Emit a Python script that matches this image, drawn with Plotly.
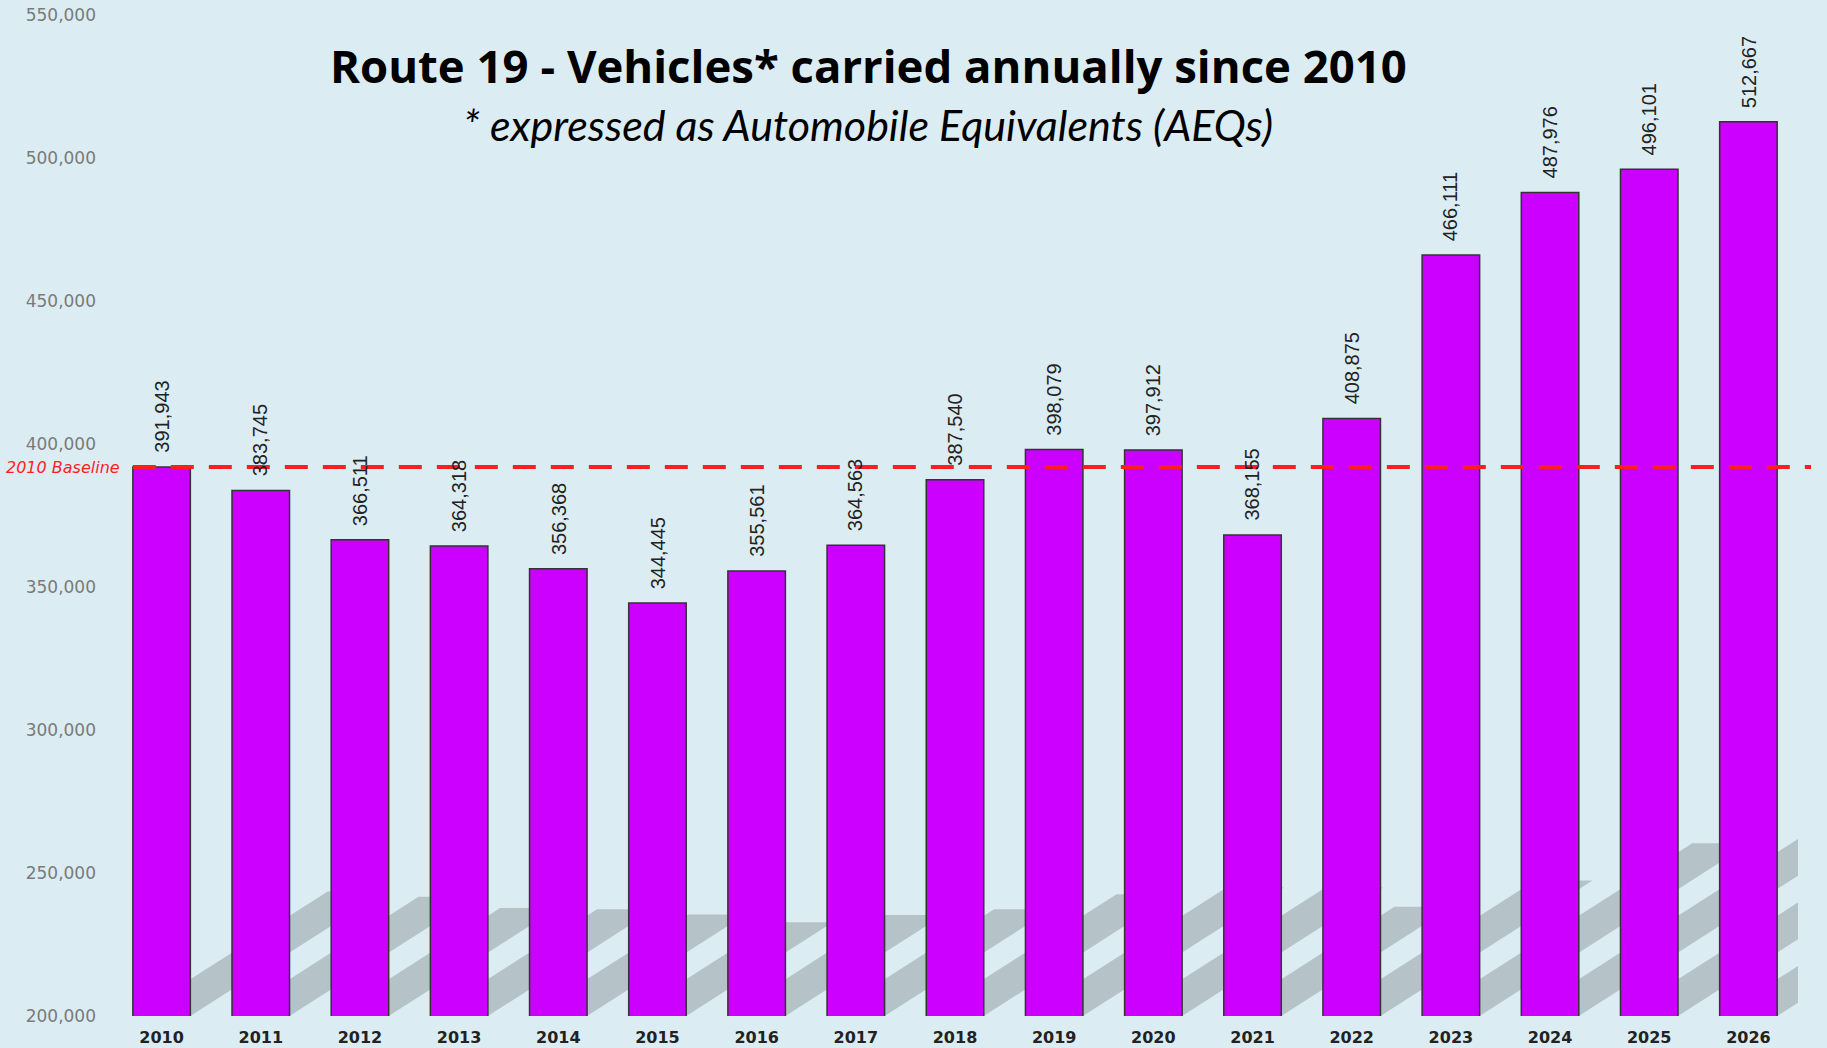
import plotly.graph_objects as go

# ---------------- data ----------------
years = ["2010", "2011", "2012", "2013", "2014", "2015", "2016", "2017", "2018",
         "2019", "2020", "2021", "2022", "2023", "2024", "2025", "2026"]
vehicles = [391943, 383745, 366511, 364318, 356368, 344445, 355561, 364563, 387540,
            398079, 397912, 368155, 408875, 466111, 487976, 496101, 512667]
y_tick_values = [200000, 250000, 300000, 350000, 400000, 450000, 500000, 550000]
y_tick_labels = ["200,000", "250,000", "300,000", "350,000", "400,000", "450,000", "500,000", "550,000"]
baseline_value = vehicles[0]
baseline_label = "2010 Baseline"
title_text = "Route 19 - Vehicles* carried annually since 2010"
subtitle_text = "* expressed as Automobile Equivalents (AEQs)"

# ---------------- layout constants ----------------
W, H = 1827, 1048
ML, MR, MT, MB = 112.4, 29, 14.5, 32
plot_w = W - ML - MR
plot_h = H - MT - MB
y_min, y_max = 200000, 550000
n = len(years)
bar_frac = 0.58
hw = bar_frac / 2
BG = "#DBEDF3"
BAR = "#CC00FF"

xs = list(range(n))

fig = go.Figure()
fig.add_trace(go.Bar(
    x=xs, y=vehicles,
    marker=dict(color=BAR, line=dict(color="#333333", width=1.5)),
    width=bar_frac, hoverinfo="x+y", showlegend=False,
))

# decorative cast shadows behind the bars
px_per_cat = plot_w / n
data_per_px = (y_max - y_min) / plot_h
shadow_frac = 0.227
slope = 0.64
shapes = []
for i, v in enumerate(vehicles):
    h_px = (v - y_min) / data_per_px
    dy_px = shadow_frac * h_px
    dx_c = (dy_px / slope) / px_per_cat
    dy_d = dy_px * data_per_px
    path = (f"M {i-hw},{y_min} L {i+hw},{y_min} L {i+hw+dx_c},{y_min+dy_d} "
            f"L {i-hw+dx_c},{y_min+dy_d} Z")
    shapes.append(dict(type="path", path=path, xref="x", yref="y", layer="below",
                       fillcolor="#B5C3C8", line=dict(width=0)))

# baseline dashed line
x0_paper = (0 - hw + 0.5) / n
x1_paper = 1 + 13 / plot_w
shapes.append(dict(type="line", xref="paper", yref="y", x0=x0_paper, x1=x1_paper,
                   y0=baseline_value, y1=baseline_value, layer="above",
                   line=dict(color="#FF1E1E", width=4, dash="23px,15px")))

annotations = []
for i, v in enumerate(vehicles):
    annotations.append(dict(x=i, y=v, xref="x", yref="y", text=f"{v:,}",
                            showarrow=False, textangle=-90, yanchor="bottom",
                            xanchor="center", yshift=12,
                            font=dict(family="Liberation Sans, Arial", size=20, color="#222222")))

annotations.append(dict(x=0, y=baseline_value, xref="paper", yref="y", text=f"<i>{baseline_label}</i>",
                        showarrow=False, xanchor="right", yanchor="middle", xshift=10,
                        font=dict(family="DejaVu Sans", size=16, color="#FF1E1E")))

title_cx = (868.4 - ML) / plot_w
annotations.append(dict(x=title_cx, y=(H - MB - 65) / plot_h, xref="paper", yref="paper",
                        text=f"<b>{title_text}</b>", showarrow=False,
                        xanchor="center", yanchor="middle",
                        font=dict(family="Open Sans", size=45.5, color="#000000")))
annotations.append(dict(x=title_cx, y=(H - MB - 124) / plot_h, xref="paper", yref="paper",
                        text=f"<i>{subtitle_text}</i>", showarrow=False,
                        xanchor="center", yanchor="middle",
                        font=dict(family="Lato", size=43, color="#000000")))

fig.update_layout(
    width=W, height=H,
    margin=dict(l=ML, r=MR, t=MT, b=MB, pad=0, autoexpand=False),
    paper_bgcolor=BG, plot_bgcolor=BG,
    shapes=shapes, annotations=annotations,
    bargap=1 - bar_frac,
    xaxis=dict(range=[-0.5, n - 0.5], tickmode="array", tickvals=xs, ticktext=years,
               showgrid=False, zeroline=False, showline=False, ticks="",
               tickfont=dict(family="DejaVu Sans", size=16, color="#222222", weight="bold"),
               ticklabelstandoff=10, automargin=False, fixedrange=True),
    yaxis=dict(range=[y_min, y_max], tickmode="array", tickvals=y_tick_values,
               ticktext=y_tick_labels, showgrid=False, zeroline=False, showline=False,
               ticks="", tickfont=dict(family="DejaVu Sans", size=17, color="#7A7A7A"),
               ticklabelstandoff=15, automargin=False, fixedrange=True),
    font=dict(family="DejaVu Sans"),
)

fig.write_html("out.html", config={"displayModeBar": False},
               post_script="document.body.style.margin='0';document.body.style.overflow='hidden';")
